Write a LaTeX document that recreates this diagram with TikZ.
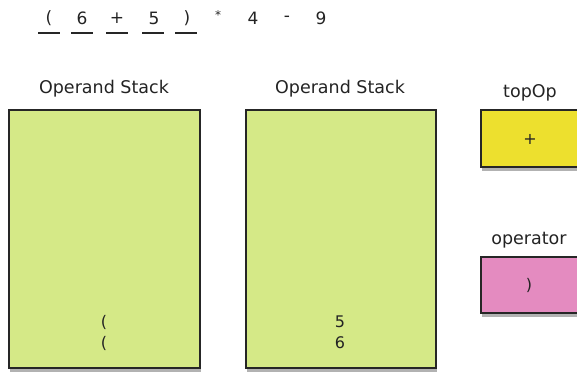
\documentclass[tikz,border=0pt]{standalone}
\usepackage{fontspec}
\setmainfont{DejaVu Sans}
\usetikzlibrary{shadows}
\definecolor{stackgreen}{RGB}{213,233,135}
\definecolor{opyellow}{RGB}{237,224,46}
\definecolor{oppink}{RGB}{228,139,192}
\definecolor{txt}{RGB}{35,35,35}
\tikzset{
  x=1pt, y=-1pt,
  box/.style={draw=black!85, line width=1.2pt, inner sep=0pt,
    drop shadow={shadow xshift=1pt, shadow yshift=-3.5pt, opacity=0.3, fill=black}},
  title/.style={font=\fontsize{17.5}{17.5}\selectfont, text=txt, inner sep=0pt},
  tok/.style={font=\fontsize{17}{17}\selectfont, text=txt, inner sep=0pt},
  cell/.style={font=\fontsize{16}{16}\selectfont, text=txt, inner sep=0pt},
  uline/.style={line width=2.2pt, draw=black!85}
}
\begin{document}
\begin{tikzpicture}
\useasboundingbox (0,0) rectangle (577,373);
% expression tokens
\node[tok] (t1) at (49,18) {(};
\node[tok] (t2) at (82,18) {6};
\node[tok] (t3) at (117,18) {+};
\node[tok] (t4) at (154,18) {5};
\node[tok] (t5) at (187,18) {)};
\node[tok, font=\fontsize{12}{12}\selectfont] (t6) at (218,15) {*};
\node[tok] (t7) at (253,18) {4};
\node[tok] (t8) at (287,19) {-};
\node[tok] (t9) at (321,18) {9};
% underlines
\draw[uline] (38,33) -- (60,33);
\draw[uline] (71,33) -- (93,33);
\draw[uline] (106,33) -- (128,33);
\draw[uline] (142,33) -- (164,33);
\draw[uline] (175,33) -- (197,33);
% stacks
\node[title] (l1) at (104,89) {Operand Stack};
\node[box, fill=stackgreen, minimum width=191pt, minimum height=258pt] (s1) at (104.5,239) {};
\node[title] (l2) at (340,89) {Operand Stack};
\node[box, fill=stackgreen, minimum width=190pt, minimum height=258pt] (s2) at (341,239) {};
\node[cell] (c1a) at (104,322) {(};
\node[cell] (c1b) at (104,343) {(};
\node[cell] (c2a) at (340,322) {5};
\node[cell] (c2b) at (340,343) {6};
% topOp
\node[title] (l3) at (530,93) {topOp};
\node[box, fill=opyellow, minimum width=100pt, minimum height=57pt] (top) at (531,138.5) {};
\node[cell] (topv) at (530,139) {+};
% operator
\node[title] (l4) at (529,240) {operator};
\node[box, fill=oppink, minimum width=100pt, minimum height=56pt] (opr) at (531,285) {};
\node[cell] (oprv) at (529,285) {)};
\end{tikzpicture}
\end{document}
